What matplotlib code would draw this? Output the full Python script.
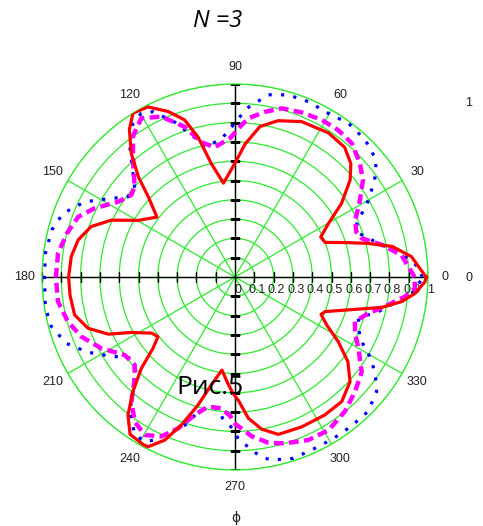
"""
Polar plot of the three directivity curves for N = 3, drawn in the old
Mathcad style: green grid, black cross axes, overlapping radial labels.
"""

import matplotlib

matplotlib.use("Agg")
import matplotlib.pyplot as plt
import numpy as np


# red solid curve, angle in degrees and relative radius
RED_DEG = [0, 6.6, 11, 14.2, 17.3, 21, 25, 29.9, 34.6, 40.1, 44.4, 49.8, 57,
           66.8, 74.6, 80.6, 85.7, 90, 97, 101.8, 104.8, 107.8, 112, 117.1,
           121.9, 125.6, 130, 134, 137.3, 142.5, 149.6, 155.3, 160.7, 166.7,
           172.9, 180, 186.2, 193.3, 199.2, 204.3, 208.1, 214, 217.8, 221,
           224.3, 228.3, 232.2, 236.3, 241.3, 242.9, 246.7, 250.1, 253.9,
           257.6, 262, 266, 269, 271.6, 275.4, 279.9, 285.4, 294, 303.1,
           310.6, 317.7, 323.2, 328, 332.4, 336.5, 339, 344.9, 348.3, 351.6,
           354.8, 358.6, 360]
RED_R = [0.99, 0.92, 0.83, 0.71, 0.60, 0.50, 0.49, 0.56, 0.67, 0.78, 0.84,
         0.88, 0.89, 0.876, 0.84, 0.79, 0.69, 0.59, 0.49, 0.60, 0.75, 0.855,
         0.925, 0.99, 1.0, 0.94, 0.836, 0.72, 0.61, 0.51, 0.58, 0.705, 0.79,
         0.835, 0.855, 0.862, 0.86, 0.854, 0.807, 0.72, 0.61, 0.52, 0.505,
         0.563, 0.678, 0.795, 0.905, 0.98, 0.99, 0.988, 0.92, 0.816, 0.69,
         0.573, 0.487, 0.55, 0.603, 0.64, 0.735, 0.80, 0.846, 0.85, 0.853,
         0.85, 0.806, 0.73, 0.63, 0.536, 0.486, 0.50, 0.644, 0.776, 0.873,
         0.937, 0.985, 0.99]

# magenta dashed curve
MAG_DEG = [0, 7.5, 12.3, 17, 20.4, 25.4, 31.6, 37, 42.3, 48.9, 54.9, 61, 68,
           74.5, 79.7, 85.2, 88, 92, 98.9, 104, 108.5, 114.7, 120.6, 126,
           131.9, 138, 141.7, 147.2, 153.9, 159, 165.5, 172.4, 180, 187.9,
           195, 201.2, 208.1, 215.3, 221.2, 225.3, 230.3, 235.3, 240.2, 245.2,
           249.4, 253.7, 258.2, 264, 268, 270, 276, 281.4, 286.7, 294.2,
           301.4, 309.2, 316.3, 323.2, 330, 334.9, 339.6, 344.8, 348.8, 353.4,
           356.4, 360]
MAG_R = [0.93, 0.87, 0.78, 0.686, 0.67, 0.69, 0.76, 0.83, 0.875, 0.92, 0.93,
         0.93, 0.92, 0.907, 0.87, 0.825, 0.78, 0.72, 0.68, 0.72, 0.82, 0.915,
         0.955, 0.90, 0.79, 0.70, 0.685, 0.72, 0.81, 0.87, 0.90, 0.925, 0.928,
         0.926, 0.896, 0.854, 0.785, 0.70, 0.691, 0.739, 0.84, 0.912, 0.943,
         0.91, 0.838, 0.745, 0.686, 0.684, 0.72, 0.76, 0.83, 0.876, 0.90,
         0.926, 0.93, 0.90, 0.86, 0.82, 0.738, 0.687, 0.663, 0.716, 0.79,
         0.886, 0.934, 0.93]

# blue dotted curve
BLUE_DEG = [0, 3.2, 8, 13.2, 19.5, 23.8, 29.5, 34.7, 39.6, 46.5, 53.6, 60.3,
            67.3, 73.7, 79.6, 86, 88.8, 92, 95.5, 102.7, 106, 111.2, 116.4,
            119.8, 123.6, 128.9, 134.5, 138.5, 143.1, 148.8, 153.4, 159.7,
            165.6, 172.9, 180, 188.9, 195, 201.5, 207.1, 212.2, 218, 222.5,
            228.3, 232, 237.5, 241.3, 243.8, 249, 252.2, 254.7, 259.7, 262.8,
            265, 269, 271.4, 275, 278, 281.3, 287.8, 294.4, 301.4, 307.9,
            314.7, 321, 323.5, 328.7, 333.9, 341.5, 346.8, 354.7, 360]
BLUE_R = [0.97, 0.95, 0.87, 0.763, 0.68, 0.69, 0.79, 0.88, 0.95, 0.98, 0.99,
          0.976, 0.985, 0.983, 0.96, 0.876, 0.82, 0.767, 0.72, 0.69, 0.75,
          0.86, 0.956, 0.977, 0.956, 0.868, 0.754, 0.694, 0.693, 0.78, 0.87,
          0.95, 0.98, 0.99, 0.987, 0.995, 0.986, 0.939, 0.856, 0.768, 0.683,
          0.70, 0.795, 0.886, 0.967, 0.973, 0.94, 0.849, 0.796, 0.72, 0.683,
          0.69, 0.735, 0.784, 0.845, 0.89, 0.94, 0.967, 0.987, 0.98, 0.98,
          0.98, 0.98, 0.944, 0.91, 0.83, 0.72, 0.674, 0.77, 0.92, 0.976]

ANGLE_LABELS = list(range(0, 360, 30))
RADIAL_TICKS = [round(0.1 * i, 1) for i in range(11)]
RADIAL_LABELS = ["0", "0.1", "0.2", "0.3", "0.4", "0.5", "0.6", "0.7", "0.8",
                 "0.9", "1"]

GREEN = "#2cea2c"
LABEL_FONT = "Liberation Sans"

W, H = 483, 526


def draw_axes_cross(ax):
    """
    black cross through the centre with short ticks every 0.1
    """
    for a in (0, np.pi / 2, np.pi, 3 * np.pi / 2):
        ax.plot([a, a], [0, 1], color="black", lw=1.0, zorder=2)
    ticks = RADIAL_TICKS[1:]
    for a in (0, np.pi):
        ax.plot([a] * len(ticks), ticks, ls="none", marker="|", ms=7,
                mew=1.0, color="black", zorder=2)
    for a in (np.pi / 2, 3 * np.pi / 2):
        ax.plot([a] * len(ticks), ticks, ls="none", marker="_", ms=7,
                mew=1.0, color="black", zorder=2)


fig = plt.figure(figsize=(W / 100, H / 100), dpi=100)

# centre of the dial at (235, 277) px, radius ~193 px
cx, cy, rad = 235, 277, 193
ax = fig.add_axes([(cx - rad) / W, (H - cy - rad) / H, 2 * rad / W, 2 * rad / H],
                  projection="polar")
ax.set_ylim(0, 1)
ax.set_yticks(RADIAL_TICKS[1:])
ax.set_yticklabels([])
ax.set_xticks(np.deg2rad(ANGLE_LABELS))
ax.set_xticklabels([])
ax.tick_params(length=0)
ax.grid(True, color=GREEN, lw=0.9)
ax.spines["polar"].set_color(GREEN)
ax.spines["polar"].set_linewidth(0.9)

draw_axes_cross(ax)

ax.plot(np.deg2rad(BLUE_DEG), BLUE_R, color="#0000ff", lw=2.3,
        ls=(0, (1, 2.9)), zorder=3)
ax.plot(np.deg2rad(MAG_DEG), MAG_R, color="#ff00ff", lw=3.2,
        ls=(0, (2.2, 1.2)), zorder=4)
ax.plot(np.deg2rad(RED_DEG), RED_R, color="#ff0000", lw=2.3, zorder=5)

# angle labels just outside the outer circle
for a in ANGLE_LABELS:
    ax.text(np.deg2rad(a), 1.09, str(a), ha="center", va="center",
            fontsize=9, family=LABEL_FONT, color="#222222")

# radial labels under the positive x axis (they overlap, as in Mathcad)
for r, lab in zip(RADIAL_TICKS, RADIAL_LABELS):
    ax.annotate(lab, xy=(0, r), xytext=(3, -13), textcoords="offset pixels",
                ha="center", va="center", fontsize=9, family=LABEL_FONT,
                color="#222222")

# radius range at the right edge
fig.text(469 / W, 1 - 103 / H, "1", ha="center", va="center", fontsize=9,
         family=LABEL_FONT, color="#222222")
fig.text(469 / W, 1 - 278 / H, "0", ha="center", va="center", fontsize=9,
         family=LABEL_FONT, color="#222222")

fig.text(218 / W, 1 - 21 / H, "N =3", ha="center", va="center", fontsize=17,
         family="Open Sans", style="italic")
fig.text(210 / W, 1 - 388 / H, "Рис.5", ha="center", va="center", fontsize=19,
         family="Open Sans", zorder=10)
fig.text(236 / W, 1 - 518 / H, "ϕ", ha="center", va="center", fontsize=10,
         family="DejaVu Sans", color="#222222")

fig.savefig("out.png", dpi=100)
